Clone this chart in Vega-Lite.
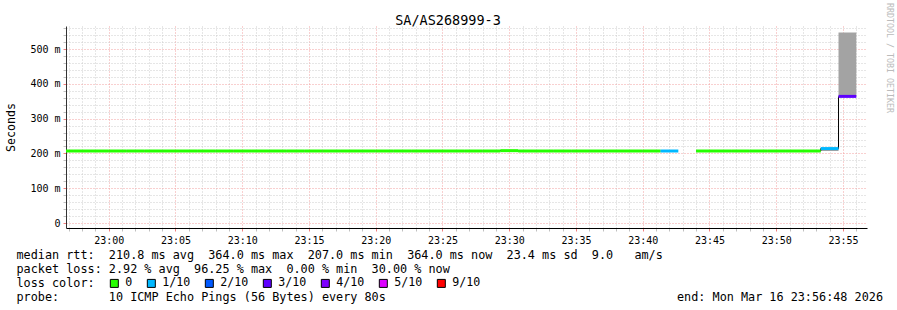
{
  "$schema": "https://vega.github.io/schema/vega-lite/v6.json",
  "width": 801,
  "height": 202,
  "autosize": {"type": "none"},
  "padding": {"left": 66, "top": 26, "right": 30, "bottom": 82},
  "background": "white",
  "config": {"view": {"stroke": null}, "font": "DejaVu Sans Mono"},
  "title": {
    "text": "SA/AS268999-3",
    "font": "DejaVu Sans Mono",
    "fontSize": 13.5,
    "fontWeight": "normal",
    "color": "#000000",
    "anchor": "middle",
    "offset": -24.5,
    "dx": -18.5
  },
  "data": {
    "values": [
      {"t": "2026-03-16T22:56:00", "t2": "2026-03-16T22:57:20", "median": 207, "lo": 207, "hi": 207, "loss": "0"},
      {"t": "2026-03-16T22:57:20", "t2": "2026-03-16T22:58:40", "median": 207, "lo": 207, "hi": 207, "loss": "0"},
      {"t": "2026-03-16T22:58:40", "t2": "2026-03-16T23:00:00", "median": 207, "lo": 207, "hi": 207, "loss": "0"},
      {"t": "2026-03-16T23:00:00", "t2": "2026-03-16T23:01:20", "median": 207, "lo": 207, "hi": 207, "loss": "0"},
      {"t": "2026-03-16T23:01:20", "t2": "2026-03-16T23:02:40", "median": 207, "lo": 207, "hi": 207, "loss": "0"},
      {"t": "2026-03-16T23:02:40", "t2": "2026-03-16T23:04:00", "median": 207, "lo": 207, "hi": 207, "loss": "0"},
      {"t": "2026-03-16T23:04:00", "t2": "2026-03-16T23:05:20", "median": 207, "lo": 207, "hi": 207, "loss": "0"},
      {"t": "2026-03-16T23:05:20", "t2": "2026-03-16T23:06:40", "median": 207, "lo": 207, "hi": 207, "loss": "0"},
      {"t": "2026-03-16T23:06:40", "t2": "2026-03-16T23:08:00", "median": 207, "lo": 207, "hi": 207, "loss": "0"},
      {"t": "2026-03-16T23:08:00", "t2": "2026-03-16T23:09:20", "median": 207, "lo": 207, "hi": 207, "loss": "0"},
      {"t": "2026-03-16T23:09:20", "t2": "2026-03-16T23:10:40", "median": 207, "lo": 207, "hi": 207, "loss": "0"},
      {"t": "2026-03-16T23:10:40", "t2": "2026-03-16T23:12:00", "median": 207, "lo": 207, "hi": 207, "loss": "0"},
      {"t": "2026-03-16T23:12:00", "t2": "2026-03-16T23:13:20", "median": 207, "lo": 207, "hi": 207, "loss": "0"},
      {"t": "2026-03-16T23:13:20", "t2": "2026-03-16T23:14:40", "median": 207, "lo": 207, "hi": 207, "loss": "0"},
      {"t": "2026-03-16T23:14:40", "t2": "2026-03-16T23:16:00", "median": 207, "lo": 207, "hi": 207, "loss": "0"},
      {"t": "2026-03-16T23:16:00", "t2": "2026-03-16T23:17:20", "median": 207, "lo": 207, "hi": 207, "loss": "0"},
      {"t": "2026-03-16T23:17:20", "t2": "2026-03-16T23:18:40", "median": 207, "lo": 207, "hi": 207, "loss": "0"},
      {"t": "2026-03-16T23:18:40", "t2": "2026-03-16T23:20:00", "median": 207, "lo": 207, "hi": 207, "loss": "0"},
      {"t": "2026-03-16T23:20:00", "t2": "2026-03-16T23:21:20", "median": 207, "lo": 207, "hi": 207, "loss": "0"},
      {"t": "2026-03-16T23:21:20", "t2": "2026-03-16T23:22:40", "median": 207, "lo": 207, "hi": 207, "loss": "0"},
      {"t": "2026-03-16T23:22:40", "t2": "2026-03-16T23:24:00", "median": 207, "lo": 207, "hi": 207, "loss": "0"},
      {"t": "2026-03-16T23:24:00", "t2": "2026-03-16T23:25:20", "median": 207, "lo": 207, "hi": 207, "loss": "0"},
      {"t": "2026-03-16T23:25:20", "t2": "2026-03-16T23:26:40", "median": 207, "lo": 207, "hi": 207, "loss": "0"},
      {"t": "2026-03-16T23:26:40", "t2": "2026-03-16T23:28:00", "median": 207, "lo": 207, "hi": 207, "loss": "0"},
      {"t": "2026-03-16T23:28:00", "t2": "2026-03-16T23:29:20", "median": 207, "lo": 207, "hi": 207, "loss": "0"},
      {"t": "2026-03-16T23:29:20", "t2": "2026-03-16T23:30:40", "median": 208, "lo": 207, "hi": 208, "loss": "0"},
      {"t": "2026-03-16T23:30:40", "t2": "2026-03-16T23:32:00", "median": 207, "lo": 207, "hi": 207, "loss": "0"},
      {"t": "2026-03-16T23:32:00", "t2": "2026-03-16T23:33:20", "median": 207, "lo": 207, "hi": 207, "loss": "0"},
      {"t": "2026-03-16T23:33:20", "t2": "2026-03-16T23:34:40", "median": 207, "lo": 207, "hi": 207, "loss": "0"},
      {"t": "2026-03-16T23:34:40", "t2": "2026-03-16T23:36:00", "median": 207, "lo": 207, "hi": 207, "loss": "0"},
      {"t": "2026-03-16T23:36:00", "t2": "2026-03-16T23:37:20", "median": 207, "lo": 207, "hi": 207, "loss": "0"},
      {"t": "2026-03-16T23:37:20", "t2": "2026-03-16T23:38:40", "median": 207, "lo": 207, "hi": 207, "loss": "0"},
      {"t": "2026-03-16T23:38:40", "t2": "2026-03-16T23:40:00", "median": 207, "lo": 207, "hi": 207, "loss": "0"},
      {"t": "2026-03-16T23:40:00", "t2": "2026-03-16T23:41:20", "median": 207, "lo": 207, "hi": 207, "loss": "0"},
      {"t": "2026-03-16T23:41:20", "t2": "2026-03-16T23:42:40", "median": 207, "lo": 207, "hi": 207, "loss": "1/10"},
      {"t": "2026-03-16T23:42:40", "t2": "2026-03-16T23:44:00", "median": null, "lo": null, "hi": null, "loss": null},
      {"t": "2026-03-16T23:44:00", "t2": "2026-03-16T23:45:20", "median": 207, "lo": 207, "hi": 207, "loss": "0"},
      {"t": "2026-03-16T23:45:20", "t2": "2026-03-16T23:46:40", "median": 207, "lo": 207, "hi": 207, "loss": "0"},
      {"t": "2026-03-16T23:46:40", "t2": "2026-03-16T23:48:00", "median": 207, "lo": 207, "hi": 207, "loss": "0"},
      {"t": "2026-03-16T23:48:00", "t2": "2026-03-16T23:49:20", "median": 207, "lo": 207, "hi": 207, "loss": "0"},
      {"t": "2026-03-16T23:49:20", "t2": "2026-03-16T23:50:40", "median": 207, "lo": 207, "hi": 207, "loss": "0"},
      {"t": "2026-03-16T23:50:40", "t2": "2026-03-16T23:52:00", "median": 207, "lo": 207, "hi": 207, "loss": "0"},
      {"t": "2026-03-16T23:52:00", "t2": "2026-03-16T23:53:20", "median": 207, "lo": 207, "hi": 207, "loss": "0"},
      {"t": "2026-03-16T23:53:20", "t2": "2026-03-16T23:54:40", "median": 214, "lo": 207, "hi": 213, "loss": "1/10"},
      {"t": "2026-03-16T23:54:40", "t2": "2026-03-16T23:56:00", "median": 364, "lo": 364, "hi": 548, "loss": "3/10"}
    ]
  },
  "layer": [
    {
      "mark": {"type": "rect", "color": "#a3a3a3", "clip": true},
      "encoding": {
        "x": {"field": "t", "type": "temporal"},
        "x2": {"field": "t2"},
        "y": {"field": "lo", "type": "quantitative"},
        "y2": {"field": "hi"}
      }
    },
    {
      "mark": {"type": "line", "color": "#000000", "strokeWidth": 1, "interpolate": "step-after", "clip": true},
      "encoding": {
        "x": {"field": "t", "type": "temporal"},
        "y": {"field": "median", "type": "quantitative"}
      }
    },
    {
      "mark": {"type": "bar", "size": 3, "clip": true},
      "encoding": {
        "x": {
          "field": "t", "type": "temporal",
          "scale": {"domain": [
            {"year": 2026, "month": 3, "date": 16, "hours": 22, "minutes": 56, "seconds": 48},
            {"year": 2026, "month": 3, "date": 16, "hours": 23, "minutes": 56, "seconds": 48}
          ]},
          "axis": {
            "orient": "bottom", "tickCount": 60,
            "labelExpr": "minutes(datum.value) % 5 == 0 ? timeFormat(datum.value, '%H:%M') : ''",
            "labelOverlap": false, "labelFlush": false,
            "grid": true, "gridDash": [1, 2],
            "gridColor": {"condition": {"test": "minutes(datum.value) % 5 == 0", "value": "#f2a0a0"}, "value": "#cccccc"},
            "domain": true, "domainColor": "#000000",
            "ticks": true, "tickSize": 3,
            "tickColor": {"condition": {"test": "minutes(datum.value) % 5 == 0", "value": "#f08080"}, "value": "#c0c0c0"},
            "labelFont": "DejaVu Sans Mono", "labelFontSize": 10, "labelColor": "#000000", "labelPadding": 4,
            "title": [
              "median rtt:\u00a0\u00a0210.8 ms avg\u00a0\u00a0364.0 ms max\u00a0\u00a0207.0 ms min\u00a0\u00a0364.0 ms now\u00a0\u00a023.4 ms sd\u00a0\u00a09.0\u00a0\u00a0\u00a0am/s",
              "packet loss: 2.92 % avg\u00a0\u00a096.25 % max\u00a0\u00a00.00 % min\u00a0\u00a030.00 % now",
              "loss color:",
              "probe:\u00a0\u00a0\u00a0\u00a0\u00a0\u00a0\u00a010 ICMP Echo Pings (56 Bytes) every 80s\u00a0\u00a0\u00a0\u00a0\u00a0\u00a0\u00a0\u00a0\u00a0\u00a0\u00a0\u00a0\u00a0\u00a0\u00a0\u00a0\u00a0\u00a0\u00a0\u00a0\u00a0\u00a0\u00a0\u00a0\u00a0\u00a0\u00a0\u00a0\u00a0\u00a0\u00a0\u00a0\u00a0\u00a0\u00a0\u00a0\u00a0\u00a0\u00a0\u00a0\u00a0end: Mon Mar 16 23:56:48 2026"
            ],
            "titleX": -50, "titleY": 30.5, "titleAlign": "left", "titleBaseline": "alphabetic", "titleAngle": 0,
            "titleLineHeight": 14,
            "titleFont": "DejaVu Sans Mono", "titleFontSize": 11.8, "titleFontWeight": "normal", "titleColor": "#000000"
          }
        },
        "x2": {"field": "t2"},
        "y": {
          "field": "median", "type": "quantitative",
          "scale": {"domain": [0, 552], "nice": false, "zero": false},
          "axis": {
            "orient": "left",
            "tickCount": 28,
            "labelExpr": "datum.value == 0 ? '0\u00a0\u00a0' : (round(datum.value) % 100 == 0 ? format(datum.value, 'd') + ' m' : '')",
            "labelOverlap": false, "labelFlush": false,
            "grid": true, "gridDash": [1, 2],
            "gridColor": {"condition": {"test": "round(datum.value) % 100 == 0", "value": "#f2a0a0"}, "value": "#cccccc"},
            "domain": true, "domainColor": "#333333",
            "ticks": true, "tickSize": 3,
            "tickColor": {"condition": {"test": "round(datum.value) % 100 == 0", "value": "#f08080"}, "value": "#c0c0c0"},
            "labelFont": "DejaVu Sans Mono", "labelFontSize": 10, "labelColor": "#000000", "labelPadding": 3,
            "title": "Seconds",
            "titleAngle": -90, "titleX": -51.5, "titleY": 101, "titleAlign": "center", "titleBaseline": "alphabetic",
            "titleFont": "DejaVu Sans Mono", "titleFontSize": 11.6, "titleFontWeight": "normal", "titleColor": "#000000"
          }
        },
        "color": {
          "field": "loss", "type": "nominal",
          "scale": {
            "domain": ["0", "1/10", "2/10", "3/10", "4/10", "5/10", "9/10"],
            "range": ["#26ff00", "#00b8ff", "#0059ff", "#5e00ff", "#7e00ff", "#dd00ff", "#ff0000"]
          },
          "legend": {
            "orient": "none", "legendX": 42.5, "legendY": 251.5, "direction": "horizontal",
            "title": null,
            "labelFont": "DejaVu Sans Mono", "labelFontSize": 11.63, "labelColor": "#000000",
            "symbolType": "square", "symbolSize": 64, "symbolStrokeColor": "#000000", "symbolStrokeWidth": 1,
            "labelOffset": 5, "columnPadding": 12
          }
        }
      }
    },
    {
      "data": {"values": [{"label": "RRDTOOL / TOBI OETIKER"}]},
      "mark": {"type": "text", "angle": 90, "align": "left", "baseline": "middle", "dx": -28, "dy": -22, "font": "DejaVu Sans Mono", "fontSize": 8.3, "color": "#bbbbbb"},
      "encoding": {
        "x": {"datum": {"year": 2026, "month": 3, "date": 16, "hours": 23, "minutes": 56, "seconds": 48}, "type": "temporal"},
        "y": {"datum": 552, "type": "quantitative"},
        "text": {"field": "label"}
      }
    }
  ]
}
